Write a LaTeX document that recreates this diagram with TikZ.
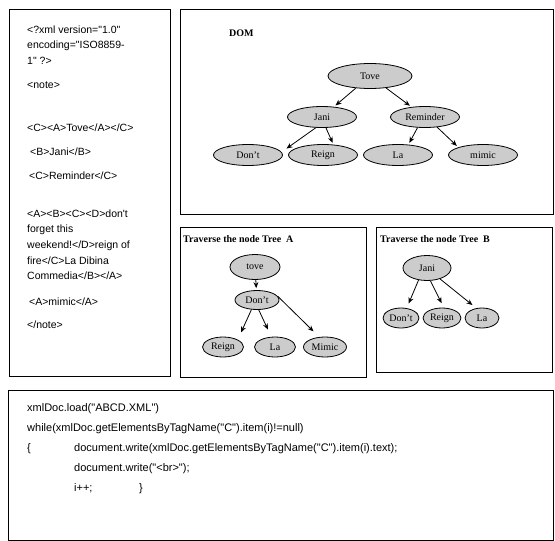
\documentclass[tikz,border=0pt]{standalone}
\usepackage{fontspec}
\setmainfont{Liberation Serif}
\newfontfamily\codefont{Liberation Sans}
\usetikzlibrary{shapes.geometric,arrows.meta}

\tikzset{
  panel/.style={draw, line width=0.8pt},
  xmlline/.style={anchor=base west, inner sep=0pt, font=\codefont\fontsize{10.5}{11}\selectfont},
  codeline/.style={anchor=base west, inner sep=0pt, font=\codefont\fontsize{11}{13}\selectfont},
  title/.style={anchor=base west, inner sep=0pt, font=\bfseries\fontsize{10}{11}\selectfont},
  treenode/.style={ellipse, draw, thick, fill=gray!40, inner sep=0pt, font=\fontsize{10}{10}\selectfont},
}

\begin{document}
\begin{tikzpicture}[x=1pt, y=-1pt]
  \useasboundingbox (0,0) rectangle (555,541);

  % panels
  \draw[panel] (9,9) rectangle (170,376);
  \draw[panel] (180,9) rectangle (553,214);
  \draw[panel] (180,227) rectangle (366,377);
  \draw[panel] (376,227) rectangle (552,372);
  \draw[panel] (8,390) rectangle (553,540);

  % xml source
  \node[xmlline] (x1) at (27,33) {<?xml version="1.0"};
  \node[xmlline] (x2) at (27,48) {encoding="ISO8859-};
  \node[xmlline] (x3) at (27,64) {1" ?>};
  \node[xmlline] (x4) at (27,88) {<note>};
  \node[xmlline] (x5) at (27,131) {<C><A>Tove</A></C>};
  \node[xmlline] (x6) at (30,155) {<B>Jani</B>};
  \node[xmlline] (x7) at (29,179) {<C>Reminder</C>};
  \node[xmlline] (x8) at (27,217) {<A><B><C><D>don't};
  \node[xmlline] (x9) at (27,232) {forget this};
  \node[xmlline] (x10) at (27,248) {weekend!</D>reign of};
  \node[xmlline] (x11) at (27,264) {fire</C>La Dibina};
  \node[xmlline] (x12) at (27,279) {Commedia</B></A>};
  \node[xmlline] (x13) at (29,305) {<A>mimic</A>};
  \node[xmlline] (x14) at (27,328) {</note>};

  % titles
  \node[title] (domtitle) at (229,36) {DOM};
  \node[title] (atitle) at (183,242) {Traverse the node Tree\ \ A};
  \node[title] (btitle) at (380,242) {Traverse the node Tree\ \ B};

  % DOM tree
  \begin{scope}[every node/.style={treenode, minimum height=21pt, minimum width=69pt}]
    \node (tove) [minimum width=84pt, minimum height=25pt] at (370,76) {Tove};
    \node (jani) at (322,117) {Jani};
    \node (reminder) at (425,117) {Reminder};
    \node (dont) at (248,155) {Don't};
    \node (reign) at (323,155) {Reign};
    \node (la) at (398,155) {La};
    \node (mimic) at (483,155) {mimic};
  \end{scope}

  % tree A
  \begin{scope}[every node/.style={treenode, minimum height=20pt, minimum width=41pt}]
    \node (toveA) [minimum width=50pt, minimum height=25pt] at (255,267) {tove};
    \node (dontA) [minimum width=44pt, minimum height=19pt] at (257,300) {Don't};
    \node (reignA) at (223,347) {Reign};
    \node (laA) at (275,347) {La};
    \node (mimicA) [minimum width=43pt] at (325,347) {Mimic};
  \end{scope}

  % tree B
  \begin{scope}[every node/.style={treenode, minimum height=20pt, minimum width=36pt}]
    \node (janiB) [minimum width=48pt, minimum height=25pt] at (427,268) {Jani};
    \node (dontB) at (401,318) {Don't};
    \node (reignB) [minimum width=38pt] at (442,318) {Reign};
    \node (laB) [minimum width=34pt] at (482,318) {La};
  \end{scope}

  \begin{scope}[every edge/.style={draw, thick, -{Stealth[length=6pt,width=5pt]}, shorten >=2pt}]
    \path (tove) edge (jani);
    \path (tove) edge (reminder);
    \path (jani.240) edge[shorten >=6pt] (dont.5);
    \path (jani.290) edge (reign.45);
    \path (reminder.235) edge (la.45);
    \path (reminder.320) edge (mimic.north west);
    \path (toveA) edge (dontA);
    \path (dontA.240) edge[shorten >=8pt] (reignA.north east);
    \path (dontA.280) edge[shorten >=8pt] (laA.110);
    \path (dontA.10) edge[shorten >=8pt] (mimicA.120);
    \path (janiB.235) edge[shorten >=5pt] (dontB.60);
    \path (janiB.285) edge[shorten >=5pt] (reignB.80);
    \path (janiB.320) edge[shorten >=5pt] (laB.120);
  \end{scope}

  % script
  \node[codeline] (c1) at (27,411) {xmlDoc.load("ABCD.XML")};
  \node[codeline] (c2) at (27,431) {while(xmlDoc.getElementsByTagName("C").item(i)!=null)};
  \node[codeline] (c3) at (27,451) {\{};
  \node[codeline] (c4) at (74,451) {document.write(xmlDoc.getElementsByTagName("C").item(i).text);};
  \node[codeline] (c5) at (74,471) {document.write("<br>");};
  \node[codeline] (c6) at (74,491) {i++;};
  \node[codeline] (c7) at (139,491) {\}};
\end{tikzpicture}
\end{document}
